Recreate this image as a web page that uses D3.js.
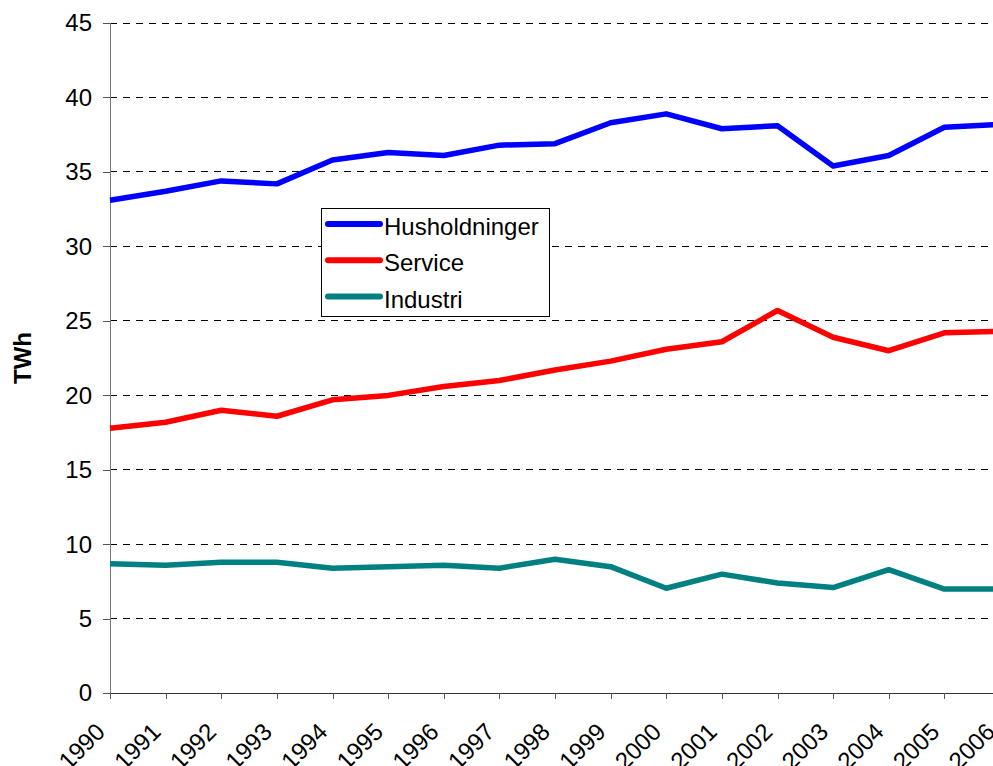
<!DOCTYPE html>
<html>
<head>
<meta charset="utf-8">
<script src="https://cdn.jsdelivr.net/npm/d3@7"></script>
<style>
  html, body { margin: 0; padding: 0; background: #fff; }
  svg { display: block; font-family: Arial, "Liberation Sans", sans-serif; }
</style>
</head>
<body>
<svg id="chart" width="993" height="766"></svg>
<script>
const years = ["1990","1991","1992","1993","1994","1995","1996","1997","1998","1999","2000","2001","2002","2003","2004","2005","2006"];
const seriesNames = ["Husholdninger", "Service", "Industri"];
const husholdninger = [33.1, 33.7, 34.4, 34.2, 35.8, 36.3, 36.1, 36.8, 36.9, 38.3, 38.9, 37.9, 38.1, 35.4, 36.1, 38.0, 38.2];
const service = [17.8, 18.2, 19.0, 18.6, 19.7, 20.0, 20.6, 21.0, 21.7, 22.3, 23.1, 23.6, 25.7, 23.9, 23.0, 24.2, 24.3];
const industri = [8.7, 8.6, 8.8, 8.8, 8.4, 8.5, 8.6, 8.4, 9.0, 8.5, 7.05, 8.0, 7.4, 7.1, 8.3, 7.0, 7.0];
const yTicks = [0, 5, 10, 15, 20, 25, 30, 35, 40, 45];
const yTitle = "TWh";

const colors = ["#0000FF", "#FF0000", "#008080"];
const seriesValues = [husholdninger, service, industri];

const svg = d3.select("#chart");
const x = d3.scalePoint().domain(years).range([110, 1000]);
const y = d3.scaleLinear().domain([0, 45]).range([693.3, 23]);

// gridlines
svg.append("g").selectAll("line").data(yTicks.filter(d => d > 0)).join("line")
  .attr("x1", 110).attr("x2", 1000)
  .attr("y1", d => y(d)).attr("y2", d => y(d))
  .attr("stroke", "#000").attr("stroke-width", 1)
  .attr("stroke-dasharray", "7,6")
  .attr("shape-rendering", "crispEdges");

// y axis
const yAxis = svg.append("g").attr("transform", "translate(110,0)")
  .call(d3.axisLeft(y).tickValues(yTicks).tickSize(7).tickPadding(11).tickFormat(d3.format("d")));
yAxis.select(".domain").attr("stroke", "#777").attr("shape-rendering", "crispEdges");
yAxis.selectAll(".tick line").attr("stroke", "#555").attr("shape-rendering", "crispEdges");
yAxis.selectAll("text").attr("font-size", 24).attr("fill", "#000")
  .attr("font-family", "Arial, 'Liberation Sans', sans-serif");

// x axis
const xAxis = svg.append("g").attr("transform", `translate(0,${y(0)})`)
  .call(d3.axisBottom(x).tickSize(6).tickSizeOuter(0));
xAxis.select(".domain").attr("stroke", "#333").attr("shape-rendering", "crispEdges");
xAxis.selectAll(".tick line").attr("stroke", "#555").attr("shape-rendering", "crispEdges");
xAxis.selectAll("text")
  .attr("font-size", 24).attr("fill", "#000")
  .attr("font-family", "Arial, 'Liberation Sans', sans-serif")
  .attr("text-anchor", "end")
  .attr("dy", null)
  .attr("y", 0)
  .attr("transform", "translate(-4,40) rotate(-45)");

// y title
svg.append("text")
  .attr("transform", "translate(31,358) rotate(-90)")
  .attr("text-anchor", "middle")
  .attr("font-size", 24).attr("font-weight", "bold")
  .text(yTitle);

// lines
const line = d3.line().x((d, i) => x(years[i])).y(d => y(d));
svg.append("g").selectAll("path").data(seriesValues).join("path")
  .attr("d", d => line(d))
  .attr("fill", "none")
  .attr("stroke", (d, i) => colors[i])
  .attr("stroke-width", 5.5)
  .attr("stroke-linejoin", "round");

// legend
const lg = svg.append("g");
lg.append("rect").attr("x", 321.5).attr("y", 208.5).attr("width", 228).attr("height", 108)
  .attr("fill", "#fff").attr("stroke", "#000").attr("stroke-width", 1);
const rows = lg.selectAll("g.row").data(seriesNames).join("g").attr("class", "row")
  .attr("transform", (d, i) => `translate(0,${224 + i * 36.3})`);
rows.append("line").attr("x1", 328).attr("x2", 380).attr("y1", 0).attr("y2", 0)
  .attr("stroke", (d, i) => colors[i]).attr("stroke-width", 6).attr("stroke-linecap", "round");
rows.append("text").attr("x", 384).attr("y", 11).attr("font-size", 24).text(d => d);
</script>
</body>
</html>
